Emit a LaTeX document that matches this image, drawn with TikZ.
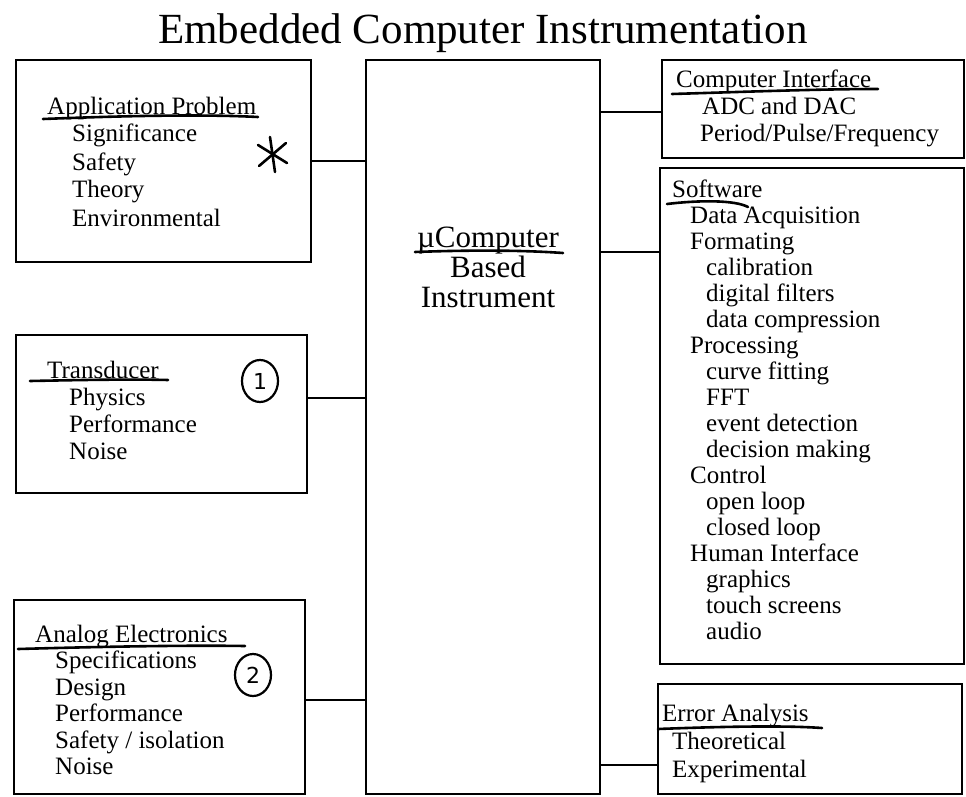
\documentclass[tikz,border=0pt]{standalone}
\usepackage{fontspec}
\setmainfont{Liberation Serif}
\newfontfamily\handfont{DejaVu Sans}
\usetikzlibrary{shapes.geometric}
\newcommand\txtlines[2]{\vtop{\baselineskip=#1\lineskiplimit=-1000pt\lineskip=0pt\halign{##\hfil\cr#2\crcr}}}
\newcommand\txtcentre[2]{\vtop{\baselineskip=#1\lineskiplimit=-1000pt\lineskip=0pt\halign{\hfil##\hfil\cr#2\crcr}}}
\newcommand\ind[1]{\hspace*{#1pt}}
\begin{document}
\begin{tikzpicture}[x=1pt,y=-1pt,
  box/.style={draw, line width=2.4pt, rectangle, inner sep=0pt},
  body/.style={anchor=base west, inner sep=0pt, font=\fontsize{25}{26}\selectfont},
  conn/.style={line width=2.4pt},
  uline/.style={line width=2.6pt, line cap=round},
  circmark/.style={draw, ellipse, line width=2.2pt, inner sep=0pt, minimum width=36pt, minimum height=42pt, font=\handfont\fontsize{22}{22}\selectfont}]
\useasboundingbox (0,0) rectangle (966,797);

% title
\node[anchor=base, inner sep=0pt, font=\fontsize{43}{43}\selectfont] (title) at (483,44) {Embedded Computer Instrumentation};

% boxes
\node[box, minimum width=295, minimum height=202] (ap) at (163.5,161) {};
\node[box, minimum width=291, minimum height=158] (tr) at (161.5,414) {};
\node[box, minimum width=291, minimum height=194] (an) at (159.5,697) {};
\node[box, minimum width=234, minimum height=734] (mc) at (483,427) {};
\node[box, minimum width=302, minimum height=98]  (ci) at (813,109) {};
\node[box, minimum width=304, minimum height=496] (sw) at (812,416) {};
\node[box, minimum width=304, minimum height=110] (ea) at (810,739) {};

% connectors
\coordinate (apc) at (ap.east);
\coordinate (trc) at ([yshift=16pt]tr.east);
\coordinate (anc) at ([yshift=-3pt]an.east);
\coordinate (cic) at ([yshift=-3pt]ci.west);
\coordinate (swc) at ([yshift=164pt]sw.west);
\coordinate (eac) at ([yshift=-26pt]ea.west);
\draw[conn] (apc) -- (apc -| mc.west);
\draw[conn] (trc) -- (trc -| mc.west);
\draw[conn] (anc) -- (anc -| mc.west);
\draw[conn] (cic) -- (cic -| mc.east);
\draw[conn] (swc) -- (swc -| mc.east);
\draw[conn] (eac) -- (eac -| mc.east);

% texts
\node[body] (apt) at (47,114) {\txtlines{28pt}{Application Problem\cr
 \ind{25}Significance\cr \ind{25}Safety\cr \ind{25}Theory\cr \ind{25}Environmental}};
\node[body] (trt) at (47,378) {\txtlines{27pt}{Transducer\cr
 \ind{22}Physics\cr \ind{22}Performance\cr \ind{22}Noise}};
\node[body] (ant) at (35,642) {\txtlines{26.5pt}{Analog Electronics\cr
 \ind{20}Specifications\cr \ind{20}Design\cr \ind{20}Performance\cr \ind{20}Safety / isolation\cr \ind{20}Noise}};
\node[body] (cit) at (676,88) {\txtlines{27pt}{Computer Interface\cr
 \ind{26}ADC and DAC\cr \ind{24}Period/Pulse/Frequency}};
\node[body] (swt) at (672,197) {\txtlines{26pt}{Software\cr
 \ind{18}Data Acquisition\cr \ind{18}Formating\cr
 \ind{34}calibration\cr \ind{34}digital filters\cr \ind{34}data compression\cr
 \ind{18}Processing\cr
 \ind{34}curve fitting\cr \ind{34}FFT\cr \ind{34}event detection\cr \ind{34}decision making\cr
 \ind{18}Control\cr
 \ind{34}open loop\cr \ind{34}closed loop\cr
 \ind{18}Human Interface\cr
 \ind{34}graphics\cr \ind{34}touch screens\cr \ind{34}audio}};
\node[body] (eat) at (662,721) {\txtlines{28pt}{Error Analysis\cr
 \ind{10}Theoretical\cr \ind{10}Experimental}};
\node[anchor=base, inner sep=0pt, font=\fontsize{31}{30}\selectfont] (mct) at (488,247) {\txtcentre{30pt}{µComputer\cr Based\cr Instrument}};

% hand-drawn underlines
\draw[uline] (43,119) .. controls (120,116) and (200,114) .. (258,117);
\draw[uline] (30,381) .. controls (80,380) and (130,379) .. (168,380);
\draw[uline] (18,649) .. controls (90,647) and (180,645) .. (245,646);
\draw[uline] (672,94) .. controls (740,92) and (820,89) .. (878,89);
\draw[uline] (667,204) .. controls (700,200) and (735,200) .. (748,207);
\draw[uline] (658,729) .. controls (710,727) and (780,725) .. (822,728);
\draw[uline] (415,252) .. controls (470,250) and (520,250) .. (563,253);

% hand marks
\draw[uline] (270,137) -- (275,172);
\draw[uline] (258,145) -- (287,163);
\draw[uline] (286,143) -- (259,166);
\node[circmark] (c1) at (260,381) {1};
\node[circmark] (c2) at (253,675) {2};
\end{tikzpicture}
\end{document}
